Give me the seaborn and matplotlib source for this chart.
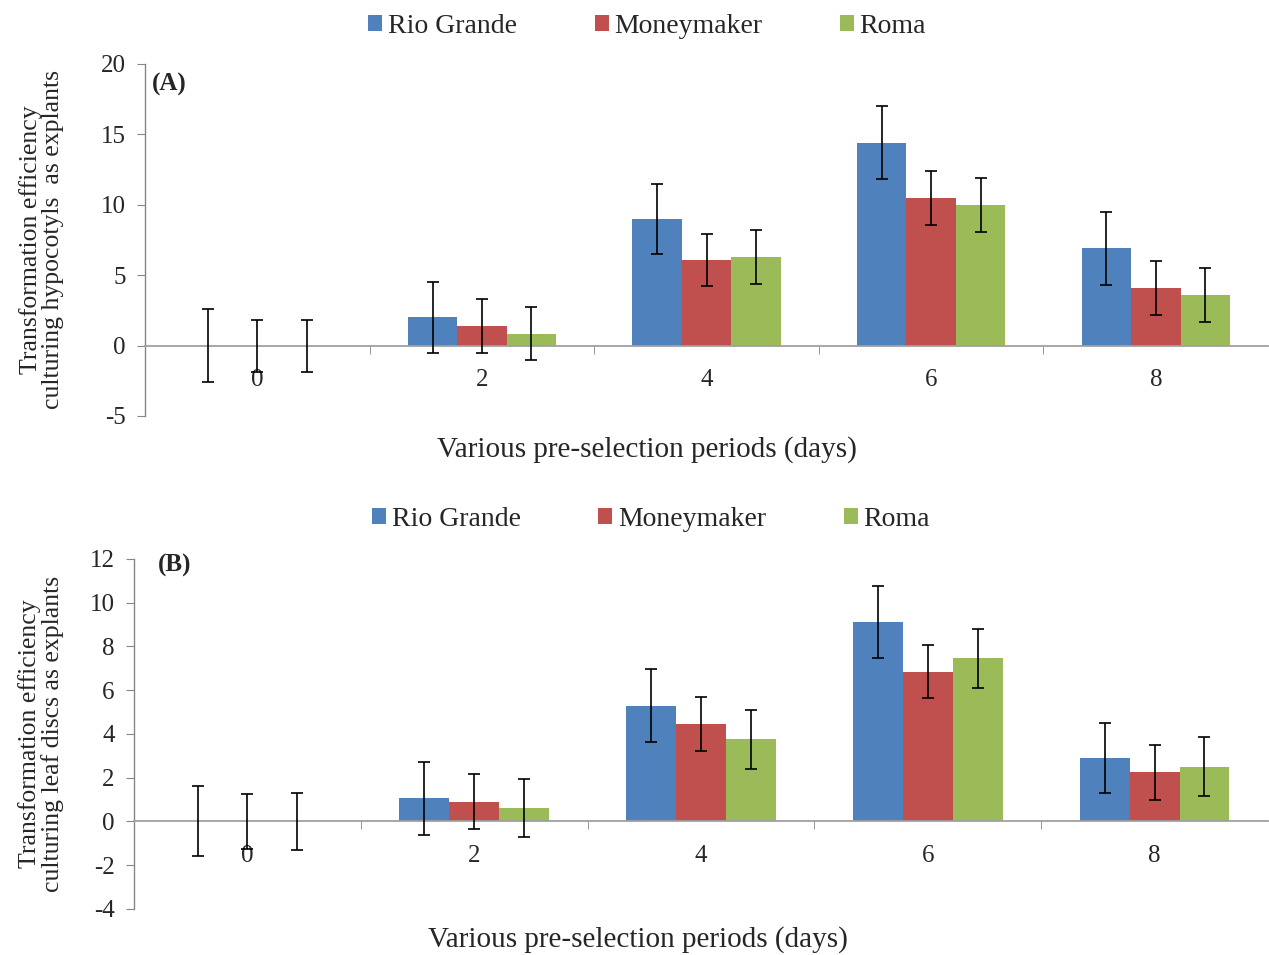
import seaborn as sns
import matplotlib.pyplot as plt
import numpy as np
import pandas as pd

# Data
days = ['0', '2', '4', '6', '8']
cultivars = ['Rio Grande', 'Moneymaker', 'Roma']
colors = ['#4F81BD', '#C0504D', '#9BBB59']

# (A) hypocotyls
a_rio = [0, 2.0, 9.0, 14.4, 6.9]
a_money = [0, 1.4, 6.1, 10.5, 4.1]
a_roma = [0, 0.85, 6.3, 10.0, 3.6]
a_rio_err = [2.6, 2.5, 2.5, 2.6, 2.6]
a_money_err = [1.85, 1.9, 1.85, 1.9, 1.9]
a_roma_err = [1.85, 1.9, 1.9, 1.9, 1.9]

# (B) leaf discs
b_rio = [0, 1.05, 5.3, 9.1, 2.9]
b_money = [0, 0.9, 4.45, 6.85, 2.25]
b_roma = [0, 0.6, 3.75, 7.45, 2.5]
b_rio_err = [1.6, 1.65, 1.65, 1.65, 1.6]
b_money_err = [1.27, 1.25, 1.25, 1.2, 1.25]
b_roma_err = [1.32, 1.32, 1.35, 1.35, 1.35]

sns.set_style('white')
plt.rcParams['font.family'] = ['Liberation Serif', 'DejaVu Serif']

fig = plt.figure(figsize=(12.69, 9.55), dpi=100)
ax_a = fig.add_axes([0.1143, 0.5644, 0.885, 0.3686])
ax_b = fig.add_axes([0.1056, 0.0482, 0.8936, 0.3665])


def draw_panel(ax, vals, errs, ylim, yticks, ylabel, tag, tag_xy,
               ylab_x, xlab_xy, leg_x, leg_y):
    df = pd.DataFrame({
        'Day': np.tile(days, len(cultivars)),
        'Cultivar': np.repeat(cultivars, len(days)),
        'Value': np.concatenate(vals),
    })
    sns.barplot(data=df, x='Day', y='Value', hue='Cultivar', order=days,
                hue_order=cultivars, palette=colors, width=0.66,
                errorbar=None, linewidth=0, saturation=1, ax=ax)
    # error bars at the centre of each bar
    for cont, v, e in zip(ax.containers, vals, errs):
        xs = [b.get_x() + b.get_width() / 2 for b in cont]
        ax.errorbar(xs, v, yerr=e, fmt='none', ecolor='black',
                    elinewidth=1.2, capsize=4.5, capthick=1.2, zorder=5)

    ax.set_xlim(-0.5, 4.5)
    ax.set_ylim(*ylim)
    ax.set_yticks(yticks)
    ax.set_yticklabels([str(t) for t in yticks], fontsize=18)

    # x axis drawn at y = 0, ticks between groups
    for s in ['top', 'right']:
        ax.spines[s].set_visible(False)
    ax.spines['bottom'].set_position(('data', 0))
    ax.spines['bottom'].set_color('#A0A0A0')
    ax.spines['left'].set_color('#868686')
    ax.spines['bottom'].set_linewidth(1.3)
    ax.spines['left'].set_linewidth(1.0)
    ax.set_xticks(range(len(days)))
    ax.set_xticklabels(days, fontsize=18)
    ax.set_xticks([0.5, 1.5, 2.5, 3.5], minor=True)
    ax.tick_params(axis='x', which='major', length=0, pad=17)
    ax.tick_params(axis='x', which='minor', length=6, color='#868686',
                   direction='out', bottom=True)
    ax.tick_params(axis='y', length=6, color='#868686', direction='out',
                   left=True, pad=8)

    ax.set_xlabel('Various pre-selection periods (days)', fontsize=21)
    ax.xaxis.set_label_coords(*xlab_xy, transform=ax.transAxes)
    ax.set_ylabel(ylabel, fontsize=18.5, linespacing=1.0)
    ax.yaxis.set_label_coords(ylab_x, 0.5)
    ax.text(tag_xy[0], tag_xy[1], tag, transform=ax.transAxes, fontsize=18,
            fontweight='bold', va='top', ha='left')

    handles, labels = ax.get_legend_handles_labels()
    ax.legend_.remove()
    fig.legend(handles, labels, loc='center', bbox_to_anchor=(leg_x, leg_y),
               ncol=3, frameon=False, fontsize=20, handlelength=0.5,
               handleheight=0.5, handletextpad=0.2, columnspacing=2.8)


draw_panel(ax_a, [a_rio, a_money, a_roma], [a_rio_err, a_money_err, a_roma_err],
           (-5, 20), [-5, 0, 5, 10, 15, 20],
           'Transformation efficiency\nculturing hypocotyls  as explants',
           '(A)', (0.006, 0.975), -0.072, (0.447, -0.057), 0.51, 0.972)
draw_panel(ax_b, [b_rio, b_money, b_roma], [b_rio_err, b_money_err, b_roma_err],
           (-4, 12), [-4, -2, 0, 2, 4, 6, 8, 10, 12],
           'Transformation efficiency\nculturing leaf discs as explants',
           '(B)', (0.021, 1.015), -0.062, (0.444, -0.05), 0.513, 0.4565)

fig.savefig('out.png', dpi=100)
